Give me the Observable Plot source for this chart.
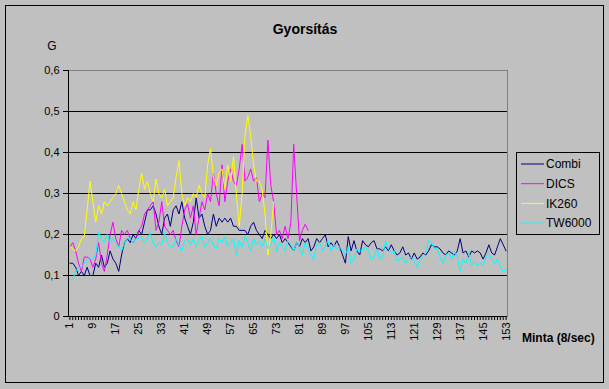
<!DOCTYPE html>
<html><head><meta charset="utf-8">
<script src="https://cdn.jsdelivr.net/npm/d3@7"></script>
<script src="https://cdn.jsdelivr.net/npm/@observablehq/plot@0.6"></script>
<style>
html,body{margin:0;padding:0;background:#c0c0c0;}
#chart{width:609px;height:389px;}
</style></head><body><div id="chart"></div>
<script>
const titleText = "Gyorsítás";
const yLabel = "G";
const xLabel = "Minta (8/sec)";
const seriesNames = ["Combi", "DICS", "IK260", "TW6000"];
const seriesColors = ["#000080", "#ff00ff", "#ffff00", "#00ffff"];
const yTicks = [0, 0.1, 0.2, 0.3, 0.4, 0.5, 0.6];
const nCategories = 153;

const combi = [0.13,0.13,0.12,0.10,0.11,0.10,0.12,0.10,0.10,0.13,
0.12,0.15,0.12,0.13,0.16,0.14,0.13,0.11,0.15,0.18,
0.19,0.18,0.20,0.19,0.21,0.20,0.23,0.26,0.26,0.27,
0.25,0.22,0.20,0.24,0.25,0.22,0.26,0.27,0.25,0.28,
0.24,0.22,0.20,0.23,0.29,0.24,0.25,0.22,0.20,0.21,
0.25,0.22,0.24,0.23,0.24,0.23,0.24,0.22,0.22,0.21,
0.21,0.21,0.20,0.22,0.23,0.21,0.20,0.19,0.21,0.20,
0.19,0.20,0.19,0.20,0.18,0.19,0.18,0.17,0.16,0.18,
0.17,0.19,0.18,0.19,0.16,0.17,0.19,0.18,0.19,0.20,
0.17,0.18,0.17,0.185,0.17,0.15,0.13,0.195,0.16,0.185,
0.16,0.15,0.185,0.175,0.17,0.18,0.185,0.165,0.165,0.16,
0.17,0.16,0.175,0.16,0.15,0.155,0.17,0.15,0.155,0.14,
0.155,0.14,0.145,0.155,0.15,0.16,0.175,0.17,0.17,0.165,
0.155,0.15,0.16,0.155,0.15,0.16,0.19,0.155,0.16,0.145,
0.16,0.155,0.16,0.155,0.14,0.155,0.175,0.155,0.15,0.17,
0.19,0.175,0.16];

const dics = [0.17,0.18,0.16,0.13,0.11,0.145,0.145,0.14,0.12,0.14,
0.18,0.13,0.11,0.15,0.20,0.23,0.19,0.17,0.21,0.20,
0.21,0.19,0.18,0.19,0.21,0.22,0.25,0.26,0.27,0.28,
0.21,0.23,0.28,0.22,0.21,0.20,0.21,0.185,0.17,0.22,
0.26,0.275,0.24,0.27,0.20,0.24,0.28,0.26,0.30,0.28,
0.35,0.30,0.27,0.37,0.28,0.33,0.36,0.33,0.32,0.36,
0.42,0.33,0.34,0.36,0.33,0.34,0.28,0.30,0.29,0.43,
0.32,0.28,0.20,0.21,0.19,0.22,0.19,0.23,0.42,0.30,
0.185,0.21,0.225,0.21];

const ik260 = [0.17,0.165,0.16,0.17,0.19,0.195,0.26,0.33,0.28,0.23,
0.27,0.25,0.28,0.27,0.28,0.29,0.30,0.32,0.30,0.28,
0.26,0.25,0.28,0.26,0.31,0.35,0.31,0.33,0.30,0.28,
0.335,0.30,0.29,0.31,0.27,0.28,0.29,0.34,0.38,0.30,
0.27,0.29,0.28,0.30,0.29,0.32,0.30,0.29,0.37,0.41,
0.34,0.32,0.35,0.36,0.31,0.37,0.33,0.39,0.30,0.22,
0.30,0.44,0.49,0.44,0.37,0.33,0.33,0.31,0.25,0.15,
0.20,0.28];

const tw6000 = [0.09,0.09,0.11,0.12,0.12,0.13,0.14,0.14,0.14,0.15,
0.205,0.19,0.18,0.20,0.18,0.19,0.18,0.17,0.16,0.18,
0.19,0.19,0.18,0.19,0.19,0.195,0.18,0.19,0.205,0.18,
0.17,0.18,0.175,0.205,0.18,0.17,0.17,0.19,0.175,0.16,
0.185,0.19,0.175,0.19,0.17,0.185,0.195,0.17,0.18,0.19,
0.175,0.165,0.19,0.18,0.195,0.17,0.18,0.19,0.15,0.185,
0.17,0.195,0.18,0.16,0.19,0.175,0.185,0.17,0.19,0.165,
0.175,0.195,0.16,0.18,0.17,0.16,0.185,0.175,0.16,0.18,
0.17,0.15,0.18,0.165,0.15,0.14,0.175,0.18,0.16,0.17,
0.185,0.16,0.175,0.165,0.17,0.16,0.15,0.17,0.13,0.14,
0.165,0.16,0.16,0.17,0.16,0.14,0.145,0.165,0.14,0.145,
0.185,0.165,0.155,0.16,0.135,0.14,0.145,0.13,0.14,0.145,
0.135,0.12,0.14,0.15,0.155,0.185,0.18,0.165,0.165,0.145,
0.13,0.15,0.155,0.14,0.16,0.145,0.11,0.14,0.13,0.155,
0.125,0.135,0.125,0.13,0.125,0.145,0.155,0.14,0.13,0.14,
0.12,0.11,0.115];

const seriesValues = [combi, dics, ik260, tw6000];
const categories = d3.range(1, nCategories + 1);
const data = [];
seriesNames.forEach((name, s) => seriesValues[s].forEach((v, i) => data.push({series: name, x: i + 1, y: v})));

const W = 609, H = 389;
const mL = 68, mR = 102, mT = 70, mB = 73;
const font = "'Liberation Sans', Arial, sans-serif";

const svg = Plot.plot({
  width: W, height: H,
  marginLeft: mL, marginRight: mR, marginTop: mT, marginBottom: mB,
  style: {background: "#c0c0c0", fontFamily: font, fontSize: "11px", color: "#000", overflow: "visible"},
  x: {type: "point", domain: categories, padding: 0.5, label: null},
  y: {domain: [0, 0.6], label: null},
  color: {domain: seriesNames, range: seriesColors},
  marks: [
    Plot.frame({stroke: "#808080"}),
    Plot.ruleY(yTicks.filter(d => d > 0 && d < 0.6), {stroke: "#000", strokeWidth: 1}),
    Plot.line(data, {x: "x", y: "y", z: "series", stroke: d => d.series, strokeWidth: 1, strokeLinejoin: "miter"}),
    Plot.ruleY([0], {stroke: "#000"}),
    Plot.axisY({ticks: yTicks, tickSize: 5, tickPadding: 4, label: null,
      tickFormat: d => d === 0 ? "0" : d3.format(".1f")(d).replace(".", ",")}),
    Plot.axisX({ticks: categories, tickSize: 4, tickPadding: 2, tickRotate: -90, label: null,
      tickFormat: d => ((d - 1) % 8 === 0 ? String(d) : "")})
  ]
});
document.getElementById("chart").appendChild(svg);

const root = d3.select(svg);
// left axis line
root.append("line").attr("x1", mL + 0.5).attr("x2", mL + 0.5).attr("y1", mT).attr("y2", H - mB).attr("stroke", "#000");
// outer border
root.append("rect").attr("x", 5.5).attr("y", 5.5).attr("width", 598).attr("height", 377)
  .attr("fill", "none").attr("stroke", "#000");
// title
root.append("text").attr("x", 305).attr("y", 34).attr("text-anchor", "middle")
  .attr("font-family", font).attr("font-size", 14).attr("font-weight", "bold").text(titleText);
root.append("text").attr("x", 52).attr("y", 50).attr("text-anchor", "middle")
  .attr("font-family", font).attr("font-size", 12).text(yLabel);
root.append("text").attr("x", 522).attr("y", 342).attr("text-anchor", "start")
  .attr("font-family", font).attr("font-size", 12).attr("font-weight", "bold").text(xLabel);
// legend
const lg = root.append("g");
lg.append("rect").attr("x", 516.5).attr("y", 152.5).attr("width", 83).attr("height", 82)
  .attr("fill", "none").attr("stroke", "#000");
seriesNames.forEach((name, i) => {
  const y = 164 + i * 19.7;
  lg.append("line").attr("x1", 521).attr("x2", 544).attr("y1", y).attr("y2", y)
    .attr("stroke", seriesColors[i]).attr("stroke-width", 1);
  lg.append("text").attr("x", 546).attr("y", y).attr("dy", "0.36em").attr("text-anchor", "start")
    .attr("font-family", font).attr("font-size", 12).text(name);
});
</script></body></html>
